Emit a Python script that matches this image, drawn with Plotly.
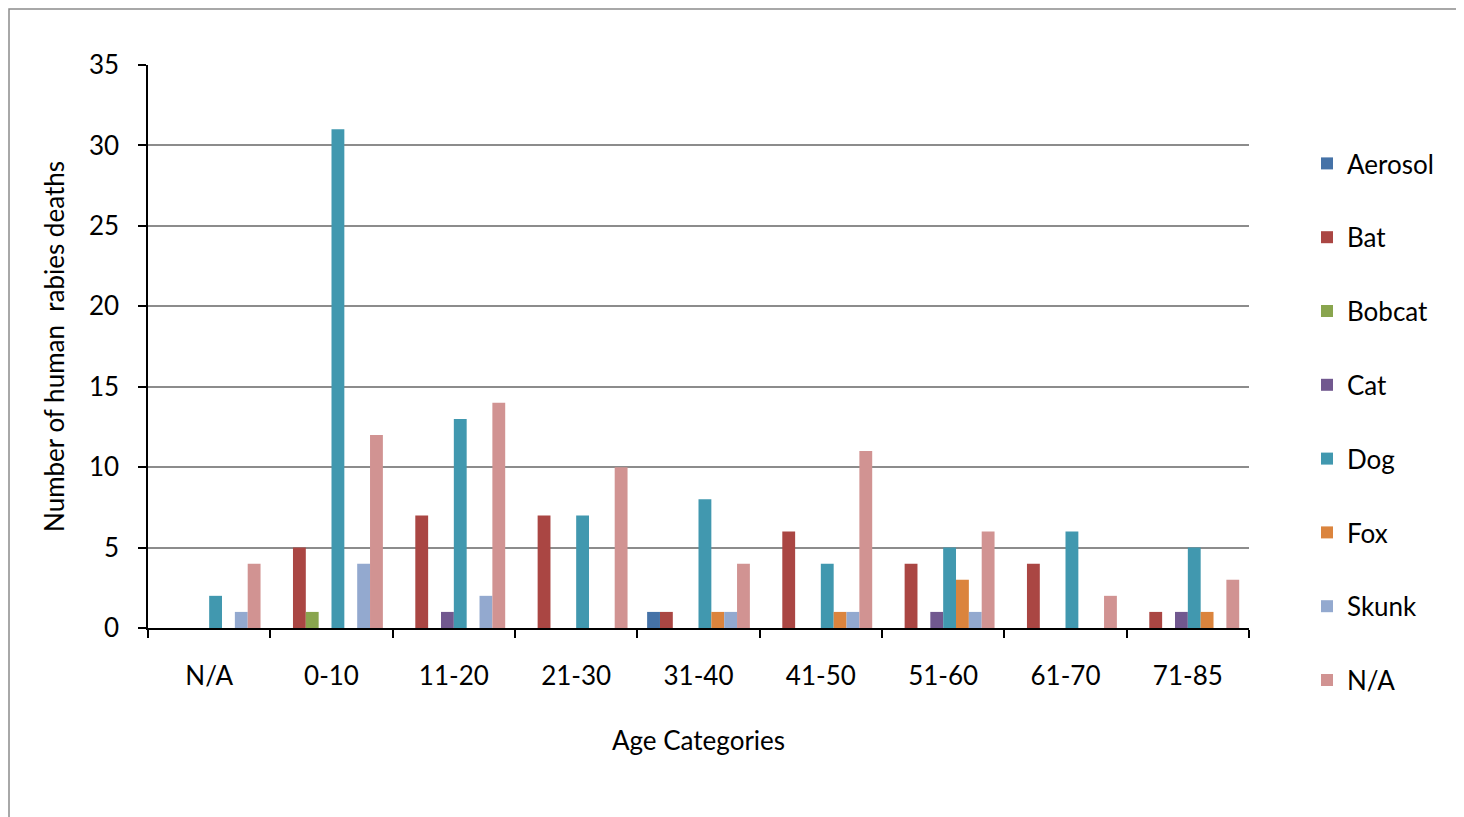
import plotly.graph_objects as go

categories = ["N/A", "0-10", "11-20", "21-30", "31-40", "41-50", "51-60", "61-70", "71-85"]
series_names = ["Aerosol", "Bat", "Bobcat", "Cat", "Dog", "Fox", "Skunk", "N/A"]
aerosol = [0, 0, 0, 0, 1, 0, 0, 0, 0]
bat = [0, 5, 7, 7, 1, 6, 4, 4, 1]
bobcat = [0, 1, 0, 0, 0, 0, 0, 0, 0]
cat = [0, 0, 1, 0, 0, 0, 1, 0, 1]
dog = [2, 31, 13, 7, 8, 4, 5, 6, 5]
fox = [0, 0, 0, 0, 1, 1, 3, 0, 1]
skunk = [1, 4, 2, 0, 1, 1, 1, 0, 0]
na = [4, 12, 14, 10, 4, 11, 6, 2, 3]
y_ticks = [0, 5, 10, 15, 20, 25, 30, 35]

series_values = [aerosol, bat, bobcat, cat, dog, fox, skunk, na]
colors = ["#4572A7", "#AA4643", "#89A54E", "#71588F", "#4198AF", "#DB843D", "#93A9CF", "#D19392"]

FONT = "Lato"
FS = 26
W, H = 1464, 817
OFF = 8  # page offset
L, R, T, B = 148 - OFF, 1249 - OFF, 65 - OFF, 628 - OFF

fig = go.Figure()
for i, (name, vals, col) in enumerate(zip(series_names, series_values, colors)):
    fig.add_trace(go.Bar(
        x=categories, y=vals, name=name,
        marker=dict(color=col, line=dict(width=0)),
        legendgroup=f"g{i}",
    ))

pw, ph = R - L, B - T
fig.update_layout(
    width=W, height=H,
    margin=dict(l=L, r=W - R, t=T, b=H - B, pad=0),
    paper_bgcolor="white", plot_bgcolor="white",
    barmode="group", bargap=0.16, bargroupgap=0,
    font=dict(family=FONT, size=FS, color="black"),
    legend=dict(
        x=(1307 - OFF - L) / pw, y=(B - (140 - OFF)) / ph, xanchor="left", yanchor="top",
        font=dict(family=FONT, size=FS, color="black"),
        tracegroupgap=37, bgcolor="rgba(0,0,0,0)", maxheight=800,
    ),
    xaxis=dict(
        type="category", showgrid=False, showline=True, linecolor="black", linewidth=1.5,
        ticks="outside", tickson="boundaries", ticklen=8, tickwidth=1.5, tickcolor="black",
        ticklabelstandoff=24,
        title=dict(text="Age Categories", font=dict(family=FONT, size=FS), standoff=42),
    ),
    yaxis=dict(
        range=[0, 35], tickvals=y_ticks, showgrid=True, gridcolor="#8C8C8C", gridwidth=1.5,
        showline=True, linecolor="black", linewidth=1.5, zeroline=False,
        ticks="outside", ticklen=8, tickwidth=1.5, tickcolor="black",
        ticklabelstandoff=14,
        title=dict(text="Number of human  rabies deaths", font=dict(family=FONT, size=FS), standoff=17),
    ),
    shapes=[dict(
        type="rect", xref="paper", yref="paper",
        x0=(9 - OFF - L) / pw, x1=(1480 - L) / pw,
        y0=(B - 830) / ph, y1=(B - (9 - OFF)) / ph,
        line=dict(color="#8C8C8C", width=1.5), fillcolor="rgba(0,0,0,0)", layer="below",
    )],
)

fig.write_html("out.html")
